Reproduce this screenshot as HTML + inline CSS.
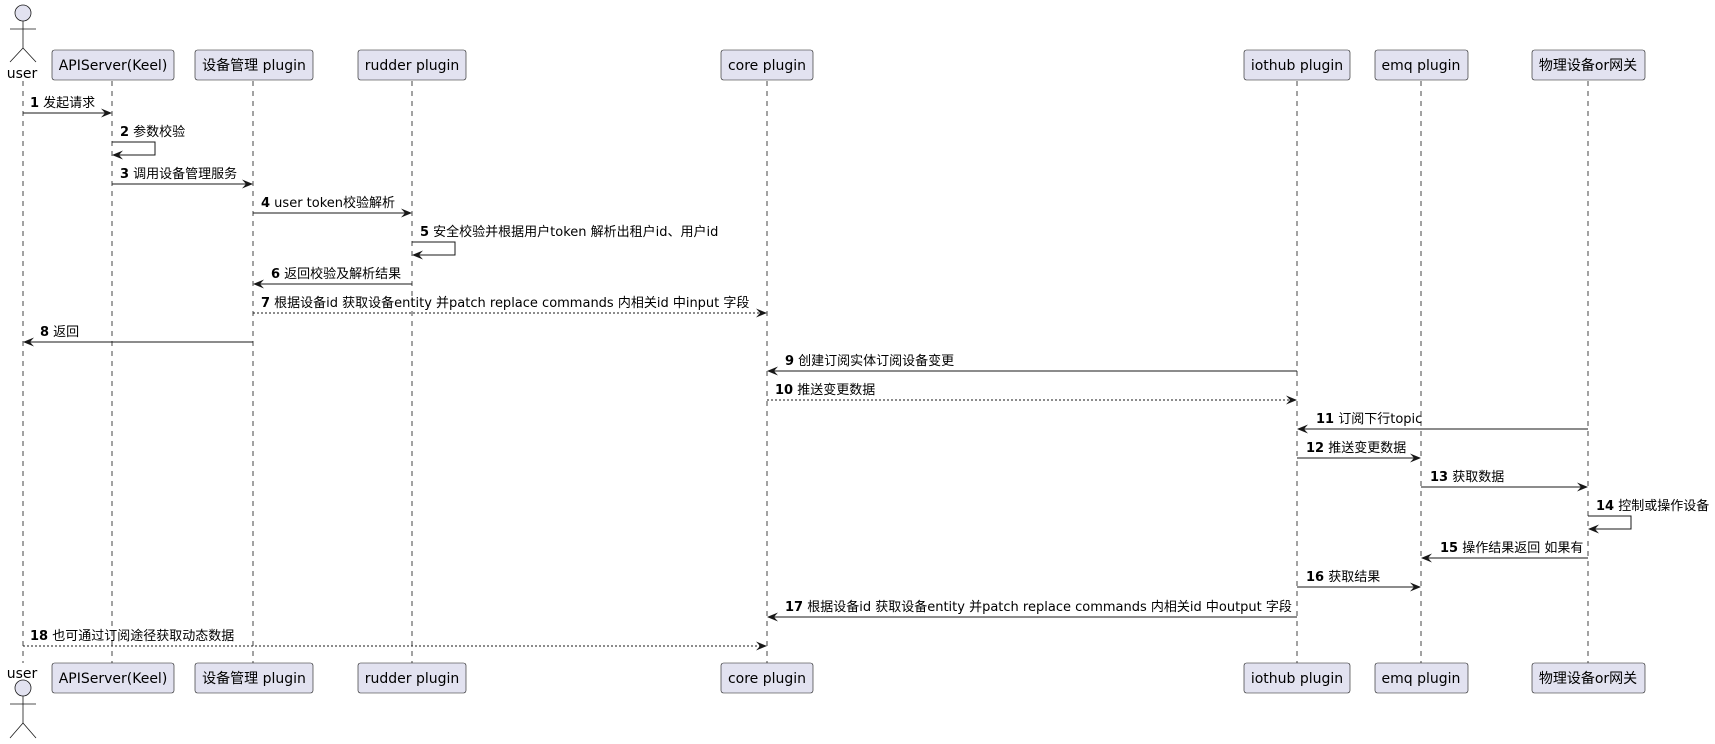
<!DOCTYPE html>
<html><head><meta charset="utf-8"><style>
body{margin:0;background:#fff}
svg{display:block}
text{font-family:"DejaVu Sans","Noto Sans CJK SC",sans-serif}
</style></head><body>
<svg width="1715" height="744" xmlns="http://www.w3.org/2000/svg">
<defs>
<g id="ah"><polygon points="0,0 -11,-4.5 -7,0 -11,4.5" fill="#181818"/></g>
</defs>
<g stroke="#181818" stroke-width="0.8" stroke-dasharray="5,5" fill="none">
<line x1="23" y1="81" x2="23" y2="663"/>
<line x1="112" y1="81" x2="112" y2="663"/>
<line x1="253" y1="81" x2="253" y2="663"/>
<line x1="412" y1="81" x2="412" y2="663"/>
<line x1="767" y1="81" x2="767" y2="663"/>
<line x1="1297" y1="81" x2="1297" y2="663"/>
<line x1="1421" y1="81" x2="1421" y2="663"/>
<line x1="1588" y1="81" x2="1588" y2="663"/>
</g>
<g fill="#E2E2F0" stroke="#181818" stroke-width="0.8">
<circle cx="23" cy="13" r="8"/>
<line x1="23" y1="21" x2="23" y2="48"/><line x1="10" y1="29" x2="36" y2="29"/>
<line x1="23" y1="48" x2="10" y2="62"/><line x1="23" y1="48" x2="36" y2="62"/>
<circle cx="23" cy="688" r="8"/>
<line x1="23" y1="696" x2="23" y2="723"/><line x1="10" y1="704" x2="36" y2="704"/>
<line x1="23" y1="723" x2="10" y2="738"/><line x1="23" y1="723" x2="36" y2="738"/>
</g>
<text x="22" y="78" font-size="14" text-anchor="middle" fill="#000">user</text>
<text x="22" y="678" font-size="14" text-anchor="middle" fill="#000">user</text>
<g fill="#E2E2F0" stroke="#181818" stroke-width="0.6">
<rect x="52" y="50" width="122" height="30" rx="2.5"/>
<rect x="195" y="50" width="118" height="30" rx="2.5"/>
<rect x="358" y="50" width="108" height="30" rx="2.5"/>
<rect x="721" y="50" width="92" height="30" rx="2.5"/>
<rect x="1244" y="50" width="106" height="30" rx="2.5"/>
<rect x="1375" y="50" width="93" height="30" rx="2.5"/>
<rect x="1532" y="50" width="113" height="30" rx="2.5"/>
<rect x="52" y="663" width="122" height="30" rx="2.5"/>
<rect x="195" y="663" width="118" height="30" rx="2.5"/>
<rect x="358" y="663" width="108" height="30" rx="2.5"/>
<rect x="721" y="663" width="92" height="30" rx="2.5"/>
<rect x="1244" y="663" width="106" height="30" rx="2.5"/>
<rect x="1375" y="663" width="93" height="30" rx="2.5"/>
<rect x="1532" y="663" width="113" height="30" rx="2.5"/>
</g>
<g font-size="14" text-anchor="middle" fill="#000">
<text x="113" y="70">APIServer(Keel)</text>
<text x="254" y="70">设备管理 plugin</text>
<text x="412" y="70">rudder plugin</text>
<text x="767" y="70">core plugin</text>
<text x="1297" y="70">iothub plugin</text>
<text x="1421" y="70">emq plugin</text>
<text x="1588" y="70">物理设备or网关</text>
<text x="113" y="683">APIServer(Keel)</text>
<text x="254" y="683">设备管理 plugin</text>
<text x="412" y="683">rudder plugin</text>
<text x="767" y="683">core plugin</text>
<text x="1297" y="683">iothub plugin</text>
<text x="1421" y="683">emq plugin</text>
<text x="1588" y="683">物理设备or网关</text>
</g>
<g stroke="#181818" stroke-width="1" fill="none">
<line x1="23" y1="113" x2="111" y2="113"/>
<polyline points="112,142 155,142 155,155 113,155"/>
<line x1="112" y1="184" x2="252" y2="184"/>
<line x1="253" y1="213" x2="411" y2="213"/>
<polyline points="412,242 455,242 455,255 413,255"/>
<line x1="412" y1="284" x2="254" y2="284"/>
<line x1="253" y1="313" x2="766" y2="313" stroke-dasharray="2,2"/>
<line x1="253" y1="342" x2="24" y2="342"/>
<line x1="1297" y1="371" x2="768" y2="371"/>
<line x1="767" y1="400" x2="1296" y2="400" stroke-dasharray="2,2"/>
<line x1="1588" y1="429" x2="1298" y2="429"/>
<line x1="1297" y1="458" x2="1420" y2="458"/>
<line x1="1421" y1="487" x2="1587" y2="487"/>
<polyline points="1588,516 1631,516 1631,529 1589,529"/>
<line x1="1588" y1="558" x2="1422" y2="558"/>
<line x1="1297" y1="587" x2="1420" y2="587"/>
<line x1="1297" y1="617" x2="768" y2="617"/>
<line x1="23" y1="646" x2="766" y2="646" stroke-dasharray="2,2"/>
</g>
<use href="#ah" transform="translate(112,113)"/>
<use href="#ah" transform="translate(112,155) scale(-1,1)"/>
<use href="#ah" transform="translate(253,184)"/>
<use href="#ah" transform="translate(412,213)"/>
<use href="#ah" transform="translate(412,255) scale(-1,1)"/>
<use href="#ah" transform="translate(253,284) scale(-1,1)"/>
<use href="#ah" transform="translate(767,313)"/>
<use href="#ah" transform="translate(23,342) scale(-1,1)"/>
<use href="#ah" transform="translate(767,371) scale(-1,1)"/>
<use href="#ah" transform="translate(1297,400)"/>
<use href="#ah" transform="translate(1297,429) scale(-1,1)"/>
<use href="#ah" transform="translate(1421,458)"/>
<use href="#ah" transform="translate(1588,487)"/>
<use href="#ah" transform="translate(1588,529) scale(-1,1)"/>
<use href="#ah" transform="translate(1421,558) scale(-1,1)"/>
<use href="#ah" transform="translate(1421,587)"/>
<use href="#ah" transform="translate(767,617) scale(-1,1)"/>
<use href="#ah" transform="translate(767,646)"/>
<g font-size="13" fill="#000">
<text x="30" y="107"><tspan font-weight="bold">1</tspan> 发起请求</text>
<text x="120" y="136"><tspan font-weight="bold">2</tspan> 参数校验</text>
<text x="120" y="178"><tspan font-weight="bold">3</tspan> 调用设备管理服务</text>
<text x="261" y="207"><tspan font-weight="bold">4</tspan> user token校验解析</text>
<text x="420" y="236"><tspan font-weight="bold">5</tspan> 安全校验并根据用户token 解析出租户id、用户id</text>
<text x="271" y="278"><tspan font-weight="bold">6</tspan> 返回校验及解析结果</text>
<text x="261" y="307"><tspan font-weight="bold">7</tspan> 根据设备id 获取设备entity 并patch replace commands 内相关id 中input 字段</text>
<text x="40" y="336"><tspan font-weight="bold">8</tspan> 返回</text>
<text x="785" y="365"><tspan font-weight="bold">9</tspan> 创建订阅实体订阅设备变更</text>
<text x="775" y="394"><tspan font-weight="bold">10</tspan> 推送变更数据</text>
<text x="1316" y="423"><tspan font-weight="bold">11</tspan> 订阅下行topic</text>
<text x="1306" y="452"><tspan font-weight="bold">12</tspan> 推送变更数据</text>
<text x="1430" y="481"><tspan font-weight="bold">13</tspan> 获取数据</text>
<text x="1596" y="510"><tspan font-weight="bold">14</tspan> 控制或操作设备</text>
<text x="1440" y="552"><tspan font-weight="bold">15</tspan> 操作结果返回 如果有</text>
<text x="1306" y="581"><tspan font-weight="bold">16</tspan> 获取结果</text>
<text x="785" y="611"><tspan font-weight="bold">17</tspan> 根据设备id 获取设备entity 并patch replace commands 内相关id 中output 字段</text>
<text x="30" y="640"><tspan font-weight="bold">18</tspan> 也可通过订阅途径获取动态数据</text>
</g>
</svg>
</body></html>
